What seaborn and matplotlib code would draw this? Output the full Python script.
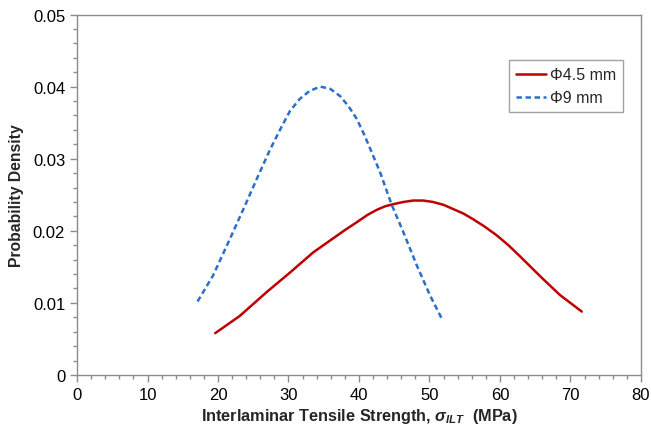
import numpy as np
import pandas as pd
import matplotlib
matplotlib.use('Agg')
import matplotlib.pyplot as plt
import seaborn as sns
from matplotlib.ticker import MultipleLocator

# valores
x_45 = [19.6, 23.1, 26.9, 30.2, 33.5, 36.4, 38.0, 39.7, 41.2, 42.5, 43.7, 44.9,
        46.3, 47.7, 49.1, 50.5, 52.0, 53.4, 54.8, 56.2, 57.8, 59.5, 61.2, 62.8,
        65.7, 68.5, 71.6]
pdf_45 = [0.0058, 0.0082, 0.0115, 0.0142, 0.0170, 0.0190, 0.0201, 0.0212, 0.0222,
          0.0229, 0.0234, 0.0237, 0.0240, 0.0242, 0.0242, 0.0240, 0.0236, 0.0230,
          0.0224, 0.0216, 0.0206, 0.0194, 0.0180, 0.0165, 0.0137, 0.0111, 0.0088]

x_9 = [17.1, 19.3, 21.7, 23.6, 25.5, 27.4, 29.0, 30.2, 31.6, 33.0, 34.5, 35.9,
       37.3, 38.5, 39.7, 40.8, 41.8, 43.0, 44.6, 46.3, 48.2, 50.1, 51.7]
pdf_9 = [0.0102, 0.0138, 0.0189, 0.0230, 0.0272, 0.0313, 0.0344, 0.0366, 0.0383,
         0.0394, 0.0400, 0.0397, 0.0387, 0.0373, 0.0355, 0.0332, 0.0309, 0.0281,
         0.0237, 0.0198, 0.0152, 0.0110, 0.0079]

labels = ['\u03a64.5 mm', '\u03a69 mm']
cores = ['#C00000', '#2A6FCB']

sns.set_style('ticks')
plt.rcParams['font.family'] = ['Liberation Sans', 'DejaVu Sans']
plt.rcParams['mathtext.fontset'] = 'custom'
plt.rcParams['mathtext.it'] = 'Liberation Sans:italic:bold'
plt.rcParams['mathtext.rm'] = 'Liberation Sans:bold'
plt.rcParams['mathtext.bf'] = 'Liberation Sans:bold'

fig = plt.figure(figsize=(6.51, 4.31), dpi=100)
ax = fig.add_axes([0.1183, 0.1276, 0.8663, 0.8364])

df45 = pd.DataFrame({'x': x_45, 'y': pdf_45})
df9 = pd.DataFrame({'x': x_9, 'y': pdf_9})
sns.lineplot(data=df45, x='x', y='y', ax=ax, color=cores[0], linewidth=1.8, label=labels[0])
sns.lineplot(data=df9, x='x', y='y', ax=ax, color=cores[1], linewidth=1.8,
             linestyle=(0, (2.2, 1.4)), label=labels[1])

ax.set_xlim(0, 80)
ax.set_ylim(0, 0.05)
ax.xaxis.set_major_locator(MultipleLocator(10))
ax.xaxis.set_minor_locator(MultipleLocator(2))
ax.yaxis.set_major_locator(MultipleLocator(0.01))
ax.yaxis.set_minor_locator(MultipleLocator(0.002))
ax.yaxis.set_major_formatter(plt.FuncFormatter(lambda v, p: '0' if v == 0 else f'{v:.2f}'))

for s in ax.spines.values():
    s.set_color('#8c8c8c')
    s.set_linewidth(1.0)
ax.tick_params(which='major', direction='out', length=5, width=1, color='#8c8c8c',
               labelsize=12, labelcolor='black')
ax.tick_params(which='minor', direction='out', length=3, width=1, color='#8c8c8c')
ax.tick_params(axis='x', which='both', top=False)
ax.tick_params(axis='y', which='both', right=False)

ax.set_xlabel('Interlaminar Tensile Strength, $\\sigma_{ILT}$  (MPa)', fontsize=11.7,
              fontweight='bold', labelpad=3)
ax.set_ylabel('Probability Density', fontsize=11.3, fontweight='bold', labelpad=6)

leg = ax.legend(loc='upper right', bbox_to_anchor=(0.968, 0.874), fancybox=False,
                edgecolor='#8c8c8c', fontsize=11.5, handlelength=1.9, handletextpad=0.2,
                borderpad=0.45, labelspacing=0.5, borderaxespad=0)
leg.get_frame().set_linewidth(1.0)

fig.savefig('out.png', dpi=100)
